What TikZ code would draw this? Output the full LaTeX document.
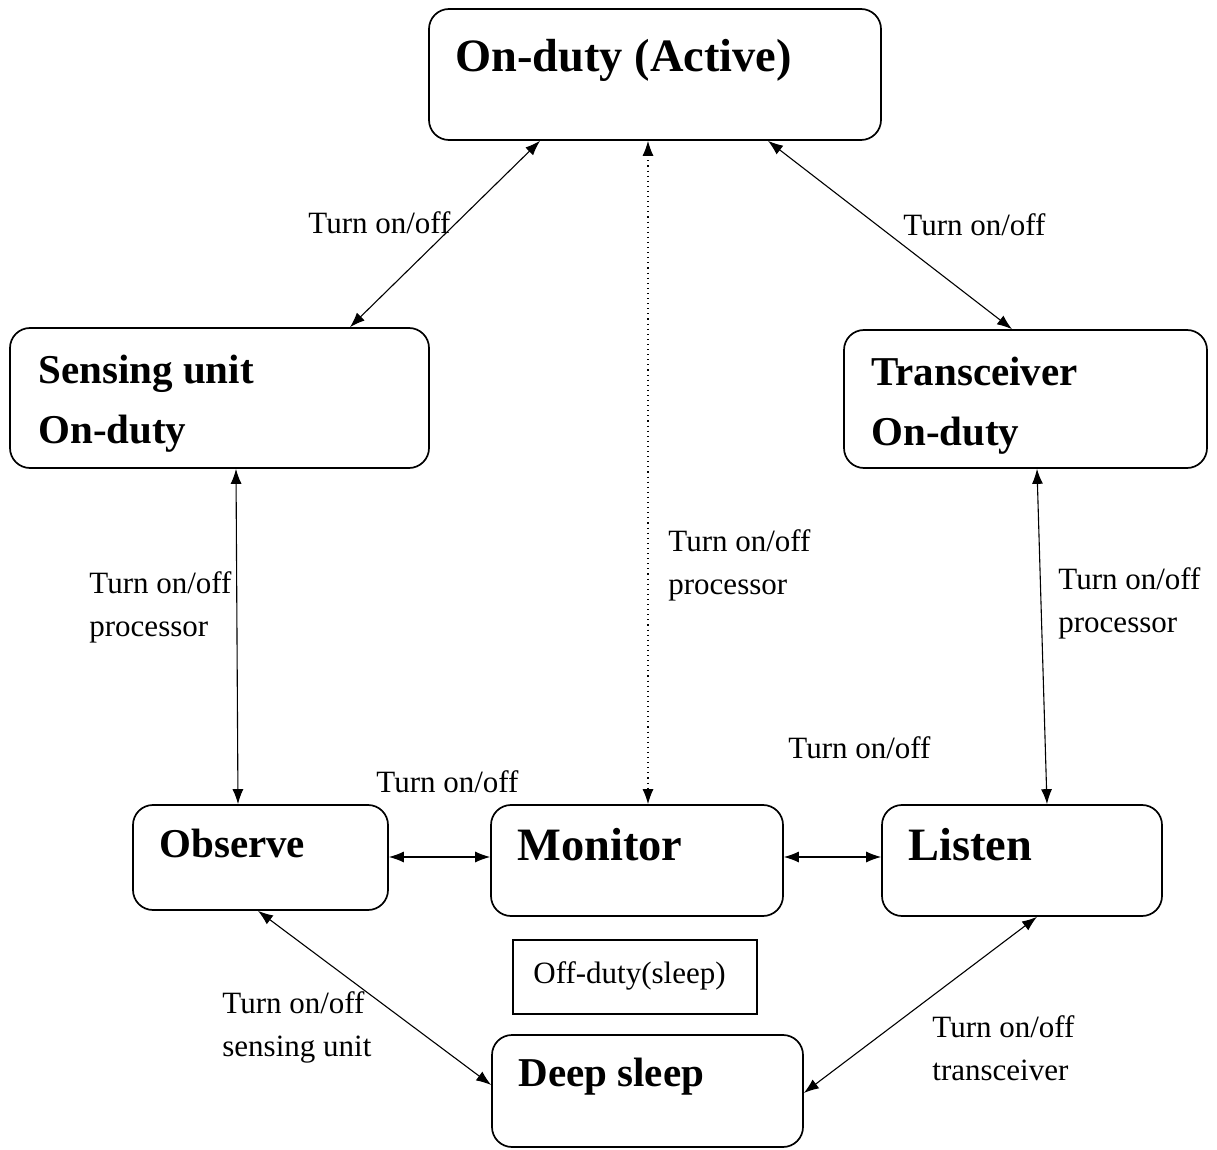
\documentclass[tikz,border=0pt]{standalone}
\usepackage{fontspec}
\setmainfont{Liberation Serif}
\usetikzlibrary{arrows.meta,fit}
\newcommand\twoln[2]{\vtop{\hbox{#1}\hbox{#2}}}
\begin{document}
\begin{tikzpicture}[x=0.5pt,y=-0.5pt,
  box/.style={draw, line width=0.85pt, rounded corners=10pt, inner sep=0pt},
  plainbox/.style={draw, line width=0.75pt, inner sep=0pt},
  bigtxt/.style={font=\fontsize{23.2}{28}\selectfont\bfseries, inner sep=0pt, anchor=base west},
  midtxt/.style={font=\fontsize{20.5}{30}\selectfont\bfseries, inner sep=0pt, anchor=base west},
  lab/.style={font=\fontsize{15.5}{21.5}\selectfont, inner sep=0pt, anchor=base west},
  conn/.style={{Latex[length=7.5pt,width=5.5pt]}-{Latex[length=7.5pt,width=5.5pt]}, line width=0.55pt},
]
\useasboundingbox (0,0) rectangle (1217,1150);

% boxes
\node[box, fit={(429,9) (881,140)}] (active) {};
\node[box, fit={(10,328) (429,468)}] (sensing) {};
\node[box, fit={(844,330) (1207,468)}] (trans) {};
\node[box, fit={(133,805) (388,910)}] (observe) {};
\node[box, fit={(491,805) (783,916)}] (monitor) {};
\node[box, fit={(882,805) (1162,916)}] (listen) {};
\node[plainbox, fit={(513,940) (757,1014)}] (offduty) {};
\node[box, fit={(492,1035) (803,1147)}] (deep) {};

% box texts
\node[bigtxt] (activet) at (455,72) {On-duty (Active)};
\node[midtxt] (sensingt) at (38,384) {\twoln{Sensing unit}{On-duty}};
\node[midtxt] (transt) at (871,386) {\twoln{Transceiver}{On-duty}};
\node[midtxt] (observet) at (159,857) {Observe};
\node[bigtxt] (monitort) at (517,860) {Monitor};
\node[bigtxt] (listent) at (908,860) {Listen};
\node[lab] (offdutyt) at (533,983) {Off-duty(sleep)};
\node[midtxt] (deept) at (518,1086) {Deep sleep};

% connectors
\draw[conn] (active.south -| 540,0) -- (sensing.north -| 350,0);
\draw[conn, dotted] (active.south -| 648,0) -- (monitor.north -| 648,0);
\draw[conn] (active.south -| 768,0) -- (trans.north -| 1012,0);
\draw[conn] (sensing.south -| 236,0) -- (observe.north -| 238,0);
\draw[conn] (trans.south -| 1037,0) -- (listen.north -| 1047,0);
\draw[conn] (observe.east |- 0,857) -- (monitor.west |- 0,857);
\draw[conn] (monitor.east |- 0,857) -- (listen.west |- 0,857);
\draw[conn] (observe.south -| 258,0) -- (deep.west |- 0,1085);
\draw[conn] (listen.south -| 1037,0) -- (deep.east |- 0,1093);

% labels
\node[lab] (l1) at (308,234) {Turn on/off};
\node[lab] (l2) at (903,236) {Turn on/off};
\node[lab] (l3) at (89,593) {\twoln{Turn on/off}{processor}};
\node[lab] (l4) at (668,552) {\twoln{Turn on/off}{processor}};
\node[lab] (l5) at (1058,589) {\twoln{Turn on/off}{processor}};
\node[lab] (l6) at (788,758) {Turn on/off};
\node[lab] (l7) at (376,792) {Turn on/off};
\node[lab] (l8) at (222,1013) {\twoln{Turn on/off}{sensing unit}};
\node[lab] (l9) at (932,1037) {\twoln{Turn on/off}{transceiver}};
\end{tikzpicture}
\end{document}
